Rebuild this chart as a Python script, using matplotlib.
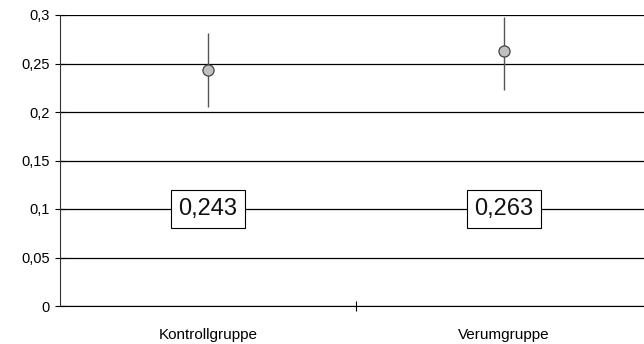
import matplotlib
matplotlib.use("Agg")
import matplotlib.pyplot as plt
from matplotlib.ticker import FixedLocator, FuncFormatter

plt.rcParams['font.family'] = ['Liberation Sans', 'DejaVu Sans']

groups = ["Kontrollgruppe", "Verumgruppe"]
means = [0.243, 0.263]
err_low = [0.038, 0.040]
err_high = [0.038, 0.035]
value_labels = ["0,243", "0,263"]
yticks = [0, 0.05, 0.1, 0.15, 0.2, 0.25, 0.3]

fig = plt.figure(figsize=(6.44, 3.44), dpi=100)
ax = fig.add_axes([60 / 644, 38 / 344, 592 / 644, 291 / 344])

x = [0.5, 1.5]
ax.set_xlim(0, 2)
ax.set_ylim(0, 0.3)

for yv in yticks:
    ax.axhline(yv, color='black', lw=0.9, zorder=1)

ax.errorbar(x, means, yerr=[err_low, err_high], fmt='none',
            ecolor='#555555', elinewidth=1.0, capsize=0, zorder=3)
ax.plot(x, means, 'o', ms=8, mfc='#c0c0c0', mec='#444444', mew=0.9, zorder=4)

for xi, lab in zip(x, value_labels):
    ax.text(xi, 0.1, lab, ha='center', va='center', fontsize=17, color='#111111',
            bbox=dict(boxstyle='square,pad=0.33', fc='white', ec='black', lw=0.8),
            zorder=5)

for s in ['top', 'right']:
    ax.spines[s].set_visible(False)
ax.spines['left'].set_color('#333333')
ax.spines['bottom'].set_color('black')

ax.yaxis.set_major_locator(FixedLocator(yticks))
ax.yaxis.set_major_formatter(FuncFormatter(lambda v, p: ('%g' % v).replace('.', ',')))
ax.tick_params(axis='y', direction='inout', length=7, width=0.8, labelsize=10.5, pad=4)

ax.set_xticks([1])
ax.set_xticklabels([''])
ax.set_xticks(x, minor=True)
ax.set_xticklabels(groups, minor=True)
ax.tick_params(axis='x', which='major', direction='inout', length=7, width=0.8)
ax.tick_params(axis='x', which='minor', length=0, labelsize=11, pad=16)

fig.savefig("out.png", dpi=100)
